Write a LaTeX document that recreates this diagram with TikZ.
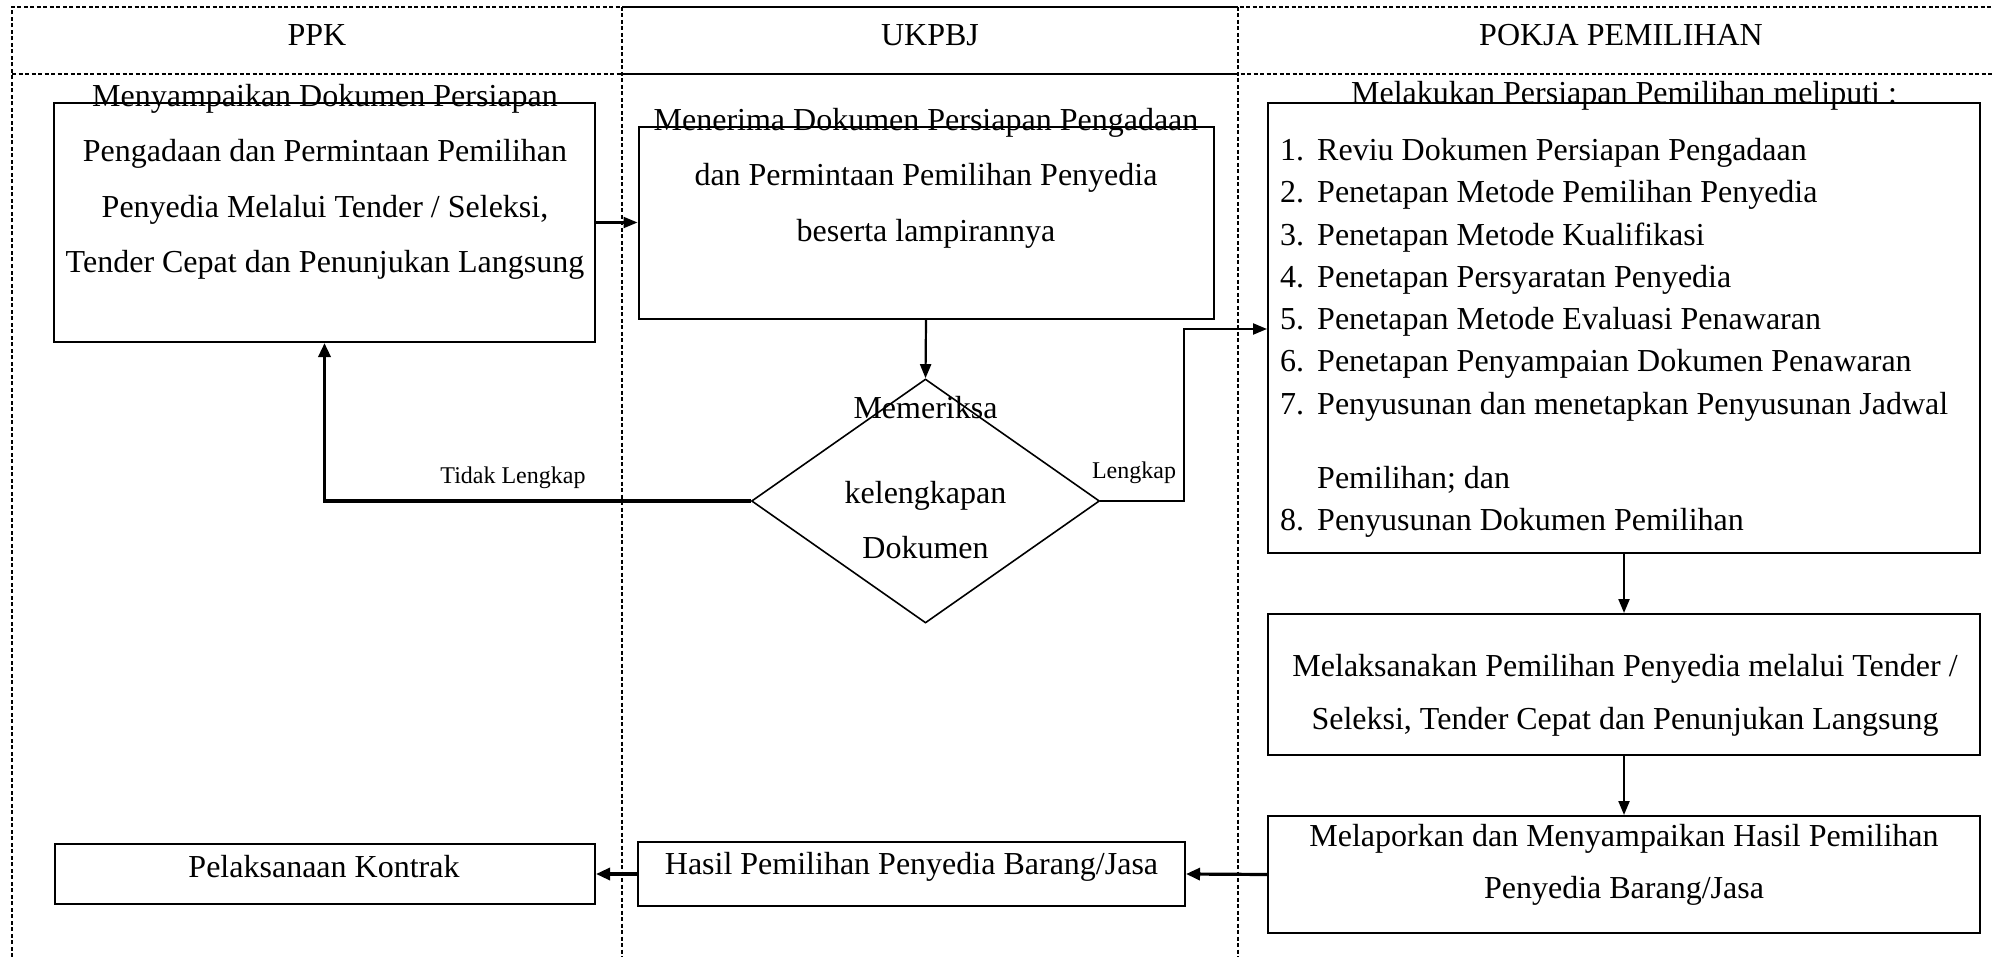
\documentclass[tikz,border=0pt]{standalone}
\usepackage{fontspec}
\setmainfont{Liberation Serif}
\usetikzlibrary{shapes.geometric,arrows.meta}
\begin{document}
\begin{tikzpicture}[x=1pt,y=-1pt,
  lane/.style={line width=1.2pt, dash pattern=on 4pt off 2.5pt},
  laneSolid/.style={line width=1.5pt},
  boxnode/.style={draw, line width=2pt, inner sep=0pt, minimum width=#1},
  txt/.style={inner sep=0pt, font=\fontsize{32}{55.3}\selectfont, align=center},
  head/.style={inner sep=0pt, font=\fontsize{32}{38}\selectfont},
  lbl/.style={inner sep=0pt, font=\fontsize{24}{28}\selectfont},
  conn/.style={line width=2.2pt, -{Triangle[length=14pt,width=11pt]}},
  connthick/.style={line width=3.2pt, -{Triangle[length=14pt,width=12pt]}}
]
\useasboundingbox (0,0) rectangle (1993,957);
% lanes
\draw[lane] (12,957) -- (12,7) -- (1993,7);
\draw[lane] (12,74) -- (1993,74);
\draw[lane] (622,7) -- (622,957);
\draw[lane] (1238,7) -- (1238,957);
\draw[laneSolid] (622,7) -- (1238,7);
\draw[laneSolid] (622,74) -- (1238,74);
\node[head] (hppk) at (317,35) {PPK};
\node[head] (hukp) at (930,35) {UKPBJ};
\node[head] (hpokja) at (1621,35) {POKJA PEMILIHAN};
% boxes
\node[boxnode=541pt, minimum height=239pt] (b1) at (324.5,222.5) {};
\node[boxnode=575pt, minimum height=192pt] (b2) at (926,223) {};
\node[boxnode=712pt, minimum height=450pt] (b3) at (1624,328) {};
\node[boxnode=712pt, minimum height=141pt] (b4) at (1624,684.5) {};
\node[boxnode=712pt, minimum height=117pt] (b5) at (1624,874.5) {};
\node[boxnode=547pt, minimum height=64pt] (b6) at (911.5,874) {};
\node[boxnode=540pt, minimum height=60pt] (b7) at (325,874) {};
\node[draw, diamond, line width=1.6pt, inner sep=0pt, aspect=1.426, minimum width=348pt, minimum height=244pt] (d) at (925.5,501) {};
% texts
\node[txt] (t1) at (325,182) {Menyampaikan Dokumen Persiapan\\Pengadaan dan Permintaan Pemilihan\\Penyedia Melalui Tender / Seleksi,\\Tender Cepat dan Penunjukan Langsung};
\node[txt, font=\fontsize{32}{55.5}\selectfont] (t2) at (926,178) {Menerima Dokumen Persiapan Pengadaan\\dan Permintaan Pemilihan Penyedia\\beserta lampirannya};
\node[txt, font=\fontsize{32}{55}\selectfont] (td) at (925.5,478) {Memeriksa\\[30pt]kelengkapan\\Dokumen};
\node[txt] (t3a) at (1624,96) {Melakukan Persiapan Pemilihan meliputi :};
\node[inner sep=0pt, font=\fontsize{32}{42.3}\selectfont, align=left, anchor=west] (t3) at (1280,338) {%
\makebox[37pt][l]{1.}Reviu Dokumen Persiapan Pengadaan\\
\makebox[37pt][l]{2.}Penetapan Metode Pemilihan Penyedia\\
\makebox[37pt][l]{3.}Penetapan Metode Kualifikasi\\
\makebox[37pt][l]{4.}Penetapan Persyaratan Penyedia\\
\makebox[37pt][l]{5.}Penetapan Metode Evaluasi Penawaran\\
\makebox[37pt][l]{6.}Penetapan Penyampaian Dokumen Penawaran\\
\makebox[37pt][l]{7.}Penyusunan dan menetapkan Penyusunan Jadwal\\[32pt]
\hspace*{37pt}Pemilihan; dan\\
\makebox[37pt][l]{8.}Penyusunan Dokumen Pemilihan};
\node[txt, font=\fontsize{32}{53}\selectfont] (t4) at (1625,695) {Melaksanakan Pemilihan Penyedia melalui Tender /\\Seleksi, Tender Cepat dan Penunjukan Langsung};
\node[txt, font=\fontsize{32}{52.5}\selectfont] (t5) at (1624,865) {Melaporkan dan Menyampaikan Hasil Pemilihan\\Penyedia Barang/Jasa};
\node[txt] (t6) at (911.5,867) {Hasil Pemilihan Penyedia Barang/Jasa};
\node[txt] (t7) at (324,867) {Pelaksanaan Kontrak};
% connectors
\coordinate (lk) at (1184,501);
\coordinate (lkin) at (1184,329);
\draw[conn] (b1.east) -- (b1.east -| b2.west);
\draw[conn] (b2.south) -- (d.north);
\draw[connthick] (d.west) -| (b1.south);
\draw[conn] (d.east) -- (lk) -- (lkin) -- (lkin -| b3.west);
\draw[conn] (b3.south) -- (b4.north);
\draw[conn] (b4.south) -- (b5.north);
\draw[connthick] (b5.west) -- (b6.east);
\draw[connthick] (b6.west) -- (b7.east);
\node[lbl] (ltl) at (513,478) {Tidak Lengkap};
\node[lbl] (ll) at (1134,473) {Lengkap};
\end{tikzpicture}
\end{document}
